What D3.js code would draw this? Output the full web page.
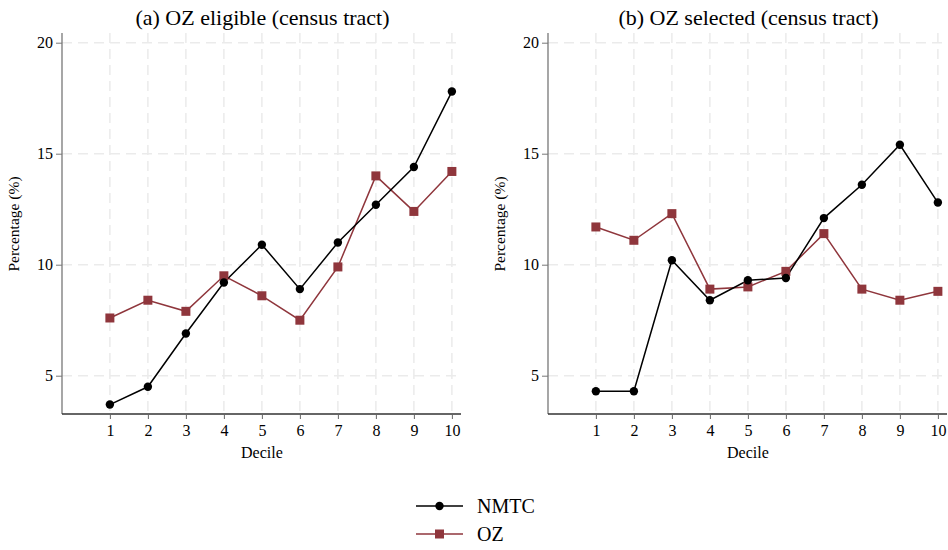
<!DOCTYPE html>
<html>
<head>
<meta charset="utf-8">
<script src="https://cdn.jsdelivr.net/npm/d3@7"></script>
<style>
  body { margin: 0; background: #fff; }
  svg text { font-family: "Liberation Serif", "DejaVu Serif", serif; fill: #000; }
</style>
</head>
<body>
<div id="svg"></div>
<script>
const deciles = [1, 2, 3, 4, 5, 6, 7, 8, 9, 10]
const yTicks = [5, 10, 15, 20]
const panelTitles = ["(a) OZ eligible (census tract)", "(b) OZ selected (census tract)"]
const seriesNames = ["NMTC", "OZ"]

const nmtcEligible = [3.7, 4.5, 6.9, 9.2, 10.9, 8.9, 11.0, 12.7, 14.4, 17.8]
const ozEligible = [7.6, 8.4, 7.9, 9.5, 8.6, 7.5, 9.9, 14.0, 12.4, 14.2]
const nmtcSelected = [4.3, 4.3, 10.2, 8.4, 9.3, 9.4, 12.1, 13.6, 15.4, 12.8]
const ozSelected = [11.7, 11.1, 12.3, 8.9, 9.0, 9.7, 11.4, 8.9, 8.4, 8.8]

const colors = { NMTC: "#000000", OZ: "#8f363c" }

const svg = d3.select('#svg')
    .append('svg')
    .attr('width', 948)
    .attr('height', 550)

const drawPanel = (left, title, nmtc, oz) => {
    const axisLeft = left, axisRight = left + 399
    const top = 33, bottom = 414

    const x = d3.scaleLinear().domain([-0.26, 10.24]).range([axisLeft, axisRight])
    const y = d3.scaleLinear().domain([20, 5]).range([42.7, 375.7])
    const yBottom = y.invert(bottom), yTop = y.invert(top)

    const g = svg.append('g')

    // grid
    g.selectAll('.vgrid').data(deciles).enter().append('line')
        .attr('x1', d => x(d)).attr('x2', d => x(d))
        .attr('y1', y(yTop)).attr('y2', y(yBottom))
        .attr('stroke', '#ebebeb').attr('stroke-width', 1.5)
        .attr('stroke-dasharray', '10,6')
    g.selectAll('.hgrid').data(yTicks).enter().append('line')
        .attr('x1', x(-0.26)).attr('x2', x(10.24))
        .attr('y1', d => y(d)).attr('y2', d => y(d))
        .attr('stroke', '#ebebeb').attr('stroke-width', 1.5)
        .attr('stroke-dasharray', '10,6')

    // axes
    const yAx = g.append('g')
        .attr('transform', 'translate(' + axisLeft + ',0)')
        .call(d3.axisLeft(y).tickValues(yTicks).tickSize(6).tickPadding(3).tickSizeOuter(0))
    yAx.select('.domain').attr('d', 'M0,' + top + 'V' + bottom).attr('stroke', '#777')
    yAx.selectAll('.tick line').attr('stroke', '#777')
    const xAx = g.append('g')
        .attr('transform', 'translate(0,' + bottom + ')')
        .call(d3.axisBottom(x).tickValues(deciles).tickSize(5).tickPadding(6).tickSizeOuter(0))
    xAx.select('.domain').attr('d', 'M' + axisLeft + ',0H' + axisRight).attr('stroke', '#333')
    xAx.selectAll('.tick line').attr('stroke', '#666')
    g.selectAll('.domain').attr('stroke-width', 1.3)
    g.selectAll('.tick text')
        .attr('font-family', '"Liberation Serif", serif')
        .attr('font-size', '16px')
        .attr('fill', '#000')

    g.append('text')
        .attr('x', (axisLeft + axisRight) / 2 + 1).attr('y', 25)
        .attr('text-anchor', 'middle').attr('font-size', '22px')
        .text(title)
    g.append('text')
        .attr('x', x(5)).attr('y', 458)
        .attr('text-anchor', 'middle').attr('font-size', '16px')
        .text('Decile')
    g.append('text')
        .attr('transform', 'translate(' + (axisLeft - 43) + ',' + 224 + ') rotate(-90)')
        .attr('text-anchor', 'middle').attr('font-size', '15.5px')
        .text('Percentage (%)')

    const line = d3.line().x((d, i) => x(deciles[i])).y(d => y(d))

    g.append('path').datum(oz).attr('d', line)
        .attr('fill', 'none').attr('stroke', colors.OZ).attr('stroke-width', 1.5)
    g.append('path').datum(nmtc).attr('d', line)
        .attr('fill', 'none').attr('stroke', colors.NMTC).attr('stroke-width', 1.5)

    g.selectAll('.sq').data(oz).enter().append('rect')
        .attr('x', (d, i) => x(deciles[i]) - 4.5).attr('y', d => y(d) - 4.5)
        .attr('width', 9).attr('height', 9).attr('fill', colors.OZ)
    g.selectAll('.dot').data(nmtc).enter().append('circle')
        .attr('cx', (d, i) => x(deciles[i])).attr('cy', d => y(d))
        .attr('r', 4.2).attr('fill', colors.NMTC)
}

drawPanel(62, panelTitles[0], nmtcEligible, ozEligible)
drawPanel(548, panelTitles[1], nmtcSelected, ozSelected)

// legend
const legend = svg.append('g')
const ly = d3.scalePoint().domain(seriesNames).range([506, 534])
legend.selectAll('line').data(seriesNames).enter().append('line')
    .attr('x1', 416).attr('x2', 463)
    .attr('y1', d => ly(d)).attr('y2', d => ly(d))
    .attr('stroke', d => colors[d]).attr('stroke-width', 1.5)
legend.append('circle').attr('cx', 439.5).attr('cy', ly('NMTC')).attr('r', 4.2).attr('fill', colors.NMTC)
legend.append('rect').attr('x', 435).attr('y', ly('OZ') - 4.5).attr('width', 9).attr('height', 9).attr('fill', colors.OZ)
legend.selectAll('text').data(seriesNames).enter().append('text')
    .attr('x', 477).attr('y', d => ly(d) + 7)
    .attr('font-size', '20px')
    .text(d => d)
</script>
</body>
</html>
